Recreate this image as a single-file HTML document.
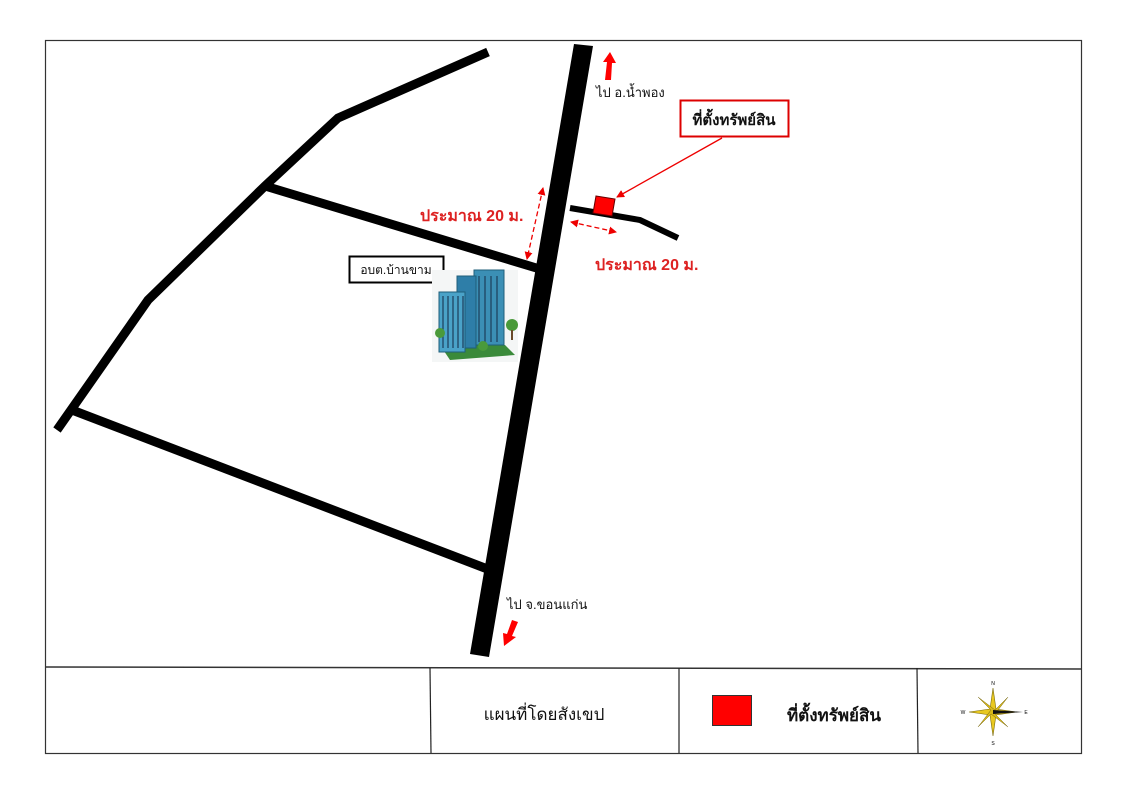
<!DOCTYPE html>
<html><head><meta charset="utf-8"><style>
html,body{margin:0;padding:0;background:#fff;}
svg{display:block;font-family:"Liberation Sans",sans-serif,"Noto Sans CJK SC";}
</style></head><body>
<svg width="1132" height="800" viewBox="0 0 1132 800" xmlns="http://www.w3.org/2000/svg">
<defs>
<marker id="ah" markerWidth="8" markerHeight="8" refX="7" refY="4" orient="auto" markerUnits="userSpaceOnUse"><path d="M0,0 L8,4 L0,8 z" fill="#e00"/></marker>
<marker id="ahs" markerWidth="8" markerHeight="8" refX="1" refY="4" orient="auto" markerUnits="userSpaceOnUse"><path d="M8,0 L0,4 L8,8 z" fill="#e00"/></marker>
</defs>
<rect x="45.5" y="40.5" width="1036" height="713" fill="#fff" stroke="#333" stroke-width="1.2"/>
<line x1="45" y1="667" x2="1081" y2="669" stroke="#333" stroke-width="1.5"/>
<line x1="430" y1="668" x2="431" y2="753" stroke="#222" stroke-width="1.2"/>
<line x1="679" y1="668" x2="679" y2="753" stroke="#222" stroke-width="1.2"/>
<line x1="917" y1="668" x2="918" y2="753" stroke="#222" stroke-width="1.2"/>
<!-- roads -->
<polyline points="488,52 338,118 265,186 148,300 57,430" fill="none" stroke="#000" stroke-width="9"/>
<line x1="265" y1="186" x2="543" y2="270" stroke="#000" stroke-width="9"/>
<line x1="72" y1="410" x2="490" y2="570" stroke="#000" stroke-width="9"/>
<polygon points="574,44 593,46 489,657 470,654" fill="#000"/>
<polyline points="570,208 640,220 678,238" fill="none" stroke="#000" stroke-width="6"/>
<!-- property -->
<polygon points="596,196 615,199 612,216 593,213" fill="#f00" stroke="#600" stroke-width="1"/>
<rect x="680.5" y="100.5" width="108" height="36" fill="#fff" stroke="#d00" stroke-width="2"/>
<text x="734" y="125" font-size="15" font-weight="bold" text-anchor="middle" fill="#111">ที่ตั้งทรัพย์สิน</text>
<line x1="722" y1="138" x2="617" y2="197" stroke="#e00" stroke-width="1.3" marker-end="url(#ah)"/>
<!-- arrows -->
<polygon points="605,80 611,80 612,63 616,63 610,52 603,62 607,62" fill="#f00"/>
<text x="596" y="97" font-size="13" fill="#111">ไป อ.น้ำพอง</text>
<polygon points="512,620 518,622 512,636 516,637 504,646 503,633 507,634" fill="#f00"/>
<text x="507" y="609" font-size="13" fill="#111">ไป จ.ขอนแก่น</text>
<line x1="543" y1="188" x2="527" y2="259" stroke="#e00" stroke-width="1.3" stroke-dasharray="5,3" marker-end="url(#ah)" marker-start="url(#ahs)"/>
<line x1="571" y1="222" x2="616" y2="232" stroke="#e00" stroke-width="1.3" stroke-dasharray="5,3" marker-end="url(#ah)" marker-start="url(#ahs)"/>
<text x="420" y="221" font-size="16" font-weight="bold" fill="#d22">ประมาณ 20 ม.</text>
<text x="595" y="270" font-size="16" font-weight="bold" fill="#d22">ประมาณ 20 ม.</text>
<!-- OBT box -->
<rect x="349.5" y="256.5" width="94" height="26" fill="#fff" stroke="#000" stroke-width="2"/>
<text x="396" y="274" font-size="12" text-anchor="middle" fill="#111">อบต.บ้านขาม</text>
<!-- building -->
<g>
<rect x="432" y="270" width="86" height="92" fill="#f4f6f6"/>
<polygon points="440,345 505,345 515,355 450,360" fill="#3a8a3a"/>
<rect x="474" y="270" width="30" height="75" fill="#3b8fb5" stroke="#1f5f7a"/>
<rect x="457" y="276" width="19" height="72" fill="#2e7ea8" stroke="#1f5f7a"/>
<rect x="439" y="292" width="26" height="60" fill="#4aa2c8" stroke="#1f5f7a"/>
<g stroke="#1c3d5a" stroke-width="1.2">
<line x1="443" y1="296" x2="443" y2="348"/><line x1="448" y1="296" x2="448" y2="348"/><line x1="453" y1="296" x2="453" y2="348"/><line x1="458" y1="296" x2="458" y2="348"/><line x1="463" y1="296" x2="463" y2="348"/>
<line x1="479" y1="276" x2="479" y2="342"/><line x1="485" y1="276" x2="485" y2="342"/><line x1="491" y1="276" x2="491" y2="342"/><line x1="497" y1="276" x2="497" y2="342"/>
</g>
<circle cx="512" cy="325" r="6" fill="#4a9a3a"/><rect x="511" y="330" width="2" height="10" fill="#6a4a2a"/>
<circle cx="440" cy="333" r="5" fill="#4a9a3a"/>
<circle cx="483" cy="346" r="5" fill="#4a9a3a"/>
</g>
<!-- legend -->
<text x="544" y="720" font-size="17" text-anchor="middle" fill="#111">แผนที่โดยสังเขป</text>
<rect x="712.5" y="695.5" width="39" height="30" fill="#f00" stroke="#333"/>
<text x="834" y="721" font-size="17" font-weight="bold" text-anchor="middle" fill="#111">ที่ตั้งทรัพย์สิน</text>
<g transform="translate(993,712)">
<polygon points="0,-24 3,-3 24,0 3,3 0,24 -3,3 -24,0 -3,-3" fill="#e8c820" stroke="#7a6a10" stroke-width="0.6"/>
<polygon points="-15,-15 2,-2 15,-15 2,2 15,15 -2,2 -15,15 -2,-2" fill="#d8b818" stroke="#7a6a10" stroke-width="0.5"/>
<polygon points="0,-2 30,0 0,2" fill="#111"/>
<text x="0" y="-27" font-size="5" text-anchor="middle">N</text>
<text x="0" y="33" font-size="5" text-anchor="middle">S</text>
<text x="-30" y="2" font-size="5" text-anchor="middle">W</text>
<text x="33" y="2" font-size="5" text-anchor="middle">E</text>
</g>
</svg>
</body></html>
